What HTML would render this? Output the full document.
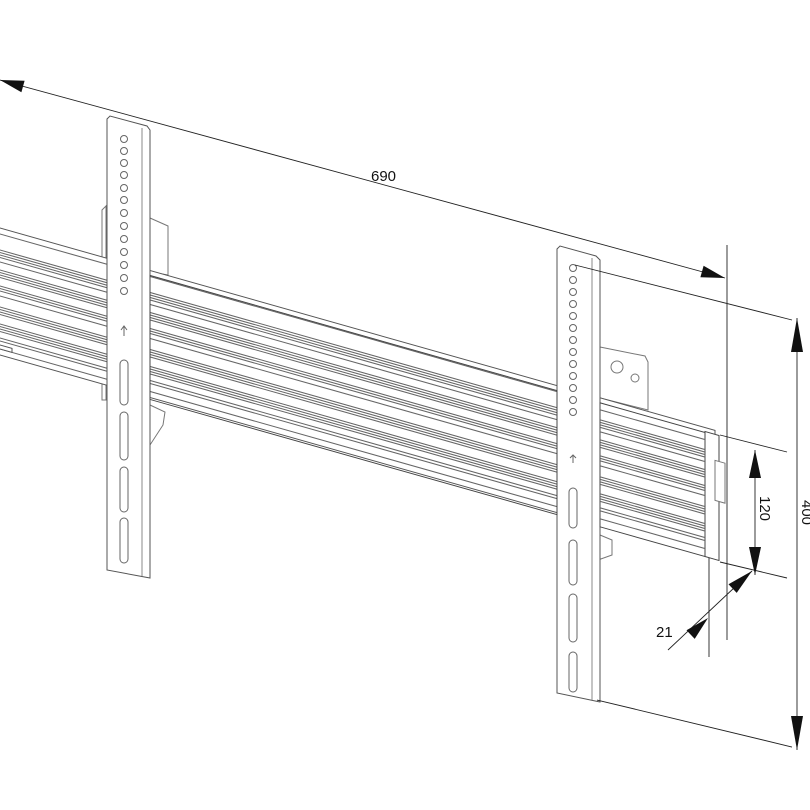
<!DOCTYPE html>
<html><head><meta charset="utf-8"><style>
html,body{margin:0;padding:0;background:#fff;}
svg{display:block}
text{font-family:"Liberation Sans",Arial,sans-serif;fill:#111}
</style></head><body>
<svg width="810" height="810" viewBox="0 0 810 810" xmlns="http://www.w3.org/2000/svg">
<rect width="810" height="810" fill="#fff"/>

<!-- back tabs -->
<g fill="#fff" stroke="#777" stroke-width="1">
  <path d="M102 210 L106 206 L106 400 L102 400 Z"/>
  <path d="M150 218 L168 226 L168 275 L150 272 Z"/>
  <path d="M150 405 L165 412 L163 425 L150 445 Z"/>
  <path d="M600 347 L645 356 L648 362 L648 410 L600 398 Z"/>
  <circle cx="617" cy="367" r="6"/>
  <circle cx="635" cy="378" r="4"/>
  <path d="M600 535 L612 540 L612 555 L598 560 Z"/>
</g>

<!-- rail -->
<g transform="matrix(1 0.283 0 1 0 0)">
  <rect x="-5" y="228" width="720" height="127" fill="#fff" stroke="#555" stroke-width="1"/>
  <g stroke="#666" stroke-width="1.1">
    <line x1="0" y1="234" x2="715" y2="234"/>
    <line x1="0" y1="250" x2="715" y2="250"/><line x1="0" y1="252.5" x2="715" y2="252.5"/><line x1="0" y1="255" x2="715" y2="255"/><line x1="0" y1="257.5" x2="715" y2="257.5"/>
    <line x1="0" y1="262" x2="715" y2="262"/>
    <line x1="0" y1="270" x2="715" y2="270"/><line x1="0" y1="272.5" x2="715" y2="272.5"/><line x1="0" y1="275" x2="715" y2="275"/><line x1="0" y1="277.5" x2="715" y2="277.5"/>
    <line x1="0" y1="286" x2="715" y2="286"/><line x1="0" y1="288.5" x2="715" y2="288.5"/><line x1="0" y1="291" x2="715" y2="291"/>
    <line x1="0" y1="296" x2="715" y2="296"/>
    <line x1="0" y1="307" x2="715" y2="307"/><line x1="0" y1="309.5" x2="715" y2="309.5"/><line x1="0" y1="312" x2="715" y2="312"/><line x1="0" y1="314.5" x2="715" y2="314.5"/>
    <line x1="0" y1="324" x2="715" y2="324"/><line x1="0" y1="326.5" x2="715" y2="326.5"/><line x1="0" y1="329" x2="715" y2="329"/><line x1="0" y1="331.5" x2="715" y2="331.5"/>
    <line x1="0" y1="338" x2="715" y2="338"/><line x1="0" y1="341" x2="715" y2="341"/>
    <line x1="0" y1="349" x2="715" y2="349"/>
  </g>
  <rect x="705" y="232" width="14" height="125" fill="#fff" stroke="#444" stroke-width="1"/>
  <rect x="715" y="258" width="10" height="40" fill="#fff" stroke="#777" stroke-width="1"/>
  <rect x="-2" y="345" width="14" height="4" fill="#fff" stroke="#555"/>
</g>

<!-- left bracket -->
<g fill="#fff" stroke="#555" stroke-width="1">
  <path d="M107 119 L110 116 L147 126 L150 130 L150 578 L107 570 Z"/>
  <line x1="142" y1="128" x2="142" y2="576" stroke="#888"/>
  <g fill="none" stroke="#666">
    <circle cx="124" cy="139" r="3.5"/><circle cx="124" cy="151" r="3.5"/><circle cx="124" cy="163" r="3.5"/>
    <circle cx="124" cy="175" r="3.5"/><circle cx="124" cy="188" r="3.5"/><circle cx="124" cy="200" r="3.5"/>
    <circle cx="124" cy="213" r="3.5"/><circle cx="124" cy="226" r="3.5"/><circle cx="124" cy="239" r="3.5"/>
    <circle cx="124" cy="252" r="3.5"/><circle cx="124" cy="265" r="3.5"/><circle cx="124" cy="278" r="3.5"/>
    <circle cx="124" cy="291" r="3.5"/>
    <path d="M124 336 L124 326 M121 330 L124 326 L127 330"/>
    <rect x="120" y="360" width="8" height="45" rx="4"/>
    <rect x="120" y="412" width="8" height="48" rx="4"/>
    <rect x="120" y="467" width="8" height="45" rx="4"/>
    <rect x="120" y="518" width="8" height="45" rx="4"/>
  </g>
</g>

<!-- right bracket -->
<g fill="#fff" stroke="#555" stroke-width="1">
  <path d="M557 249 L560 246 L596 256 L600 260 L600 702 L557 693 Z"/>
  <line x1="592" y1="258" x2="592" y2="700" stroke="#888"/>
  <g fill="none" stroke="#666">
    <circle cx="573" cy="268" r="3.5"/><circle cx="573" cy="280" r="3.5"/><circle cx="573" cy="292" r="3.5"/>
    <circle cx="573" cy="304" r="3.5"/><circle cx="573" cy="316" r="3.5"/><circle cx="573" cy="328" r="3.5"/>
    <circle cx="573" cy="340" r="3.5"/><circle cx="573" cy="352" r="3.5"/><circle cx="573" cy="364" r="3.5"/>
    <circle cx="573" cy="376" r="3.5"/><circle cx="573" cy="388" r="3.5"/><circle cx="573" cy="400" r="3.5"/>
    <circle cx="573" cy="412" r="3.5"/>
    <path d="M573 463 L573 455 M570 458 L573 455 L576 458"/>
    <rect x="569" y="488" width="8" height="40" rx="4"/>
    <rect x="569" y="540" width="8" height="45" rx="4"/>
    <rect x="569" y="594" width="8" height="48" rx="4"/>
    <rect x="569" y="652" width="8" height="40" rx="4"/>
  </g>
</g>
<!-- rail front piece right of right bracket -->
<g transform="matrix(1 0.283 0 1 0 0)">
  <rect x="600" y="233" width="105" height="124" fill="#fff" stroke="#444" stroke-width="1"/>
  <g stroke="#666" stroke-width="1.1">
    <line x1="600" y1="240" x2="705" y2="240"/>
    <line x1="600" y1="250" x2="705" y2="250"/><line x1="600" y1="252.5" x2="705" y2="252.5"/><line x1="600" y1="255" x2="705" y2="255"/><line x1="600" y1="257.5" x2="705" y2="257.5"/>
    <line x1="600" y1="262" x2="705" y2="262"/>
    <line x1="600" y1="270" x2="705" y2="270"/><line x1="600" y1="272.5" x2="705" y2="272.5"/><line x1="600" y1="275" x2="705" y2="275"/><line x1="600" y1="277.5" x2="705" y2="277.5"/>
    <line x1="600" y1="286" x2="705" y2="286"/><line x1="600" y1="288.5" x2="705" y2="288.5"/><line x1="600" y1="291" x2="705" y2="291"/>
    <line x1="600" y1="296" x2="705" y2="296"/>
    <line x1="600" y1="307" x2="705" y2="307"/><line x1="600" y1="309.5" x2="705" y2="309.5"/><line x1="600" y1="312" x2="705" y2="312"/><line x1="600" y1="314.5" x2="705" y2="314.5"/>
    <line x1="600" y1="324" x2="705" y2="324"/><line x1="600" y1="326.5" x2="705" y2="326.5"/><line x1="600" y1="329" x2="705" y2="329"/><line x1="600" y1="331.5" x2="705" y2="331.5"/>
    <line x1="600" y1="338" x2="705" y2="338"/><line x1="600" y1="341" x2="705" y2="341"/>
    <line x1="600" y1="349" x2="705" y2="349"/>
  </g>
</g>
<g transform="matrix(1 0.283 0 1 0 0)">
  <rect x="150" y="233" width="407" height="124" fill="none" stroke="#444" stroke-width="1"/>
</g>

<!-- dimension lines -->
<g stroke="#222" stroke-width="0.9" fill="none">
  <line x1="0" y1="80" x2="725" y2="278"/>
  <line x1="727" y1="245" x2="727" y2="640"/>
  <line x1="575" y1="265" x2="792" y2="320"/>
  <line x1="597" y1="700" x2="792" y2="747"/>
  <line x1="797" y1="318" x2="797" y2="750"/>
  <line x1="720" y1="435" x2="787" y2="452"/>
  <line x1="720" y1="562" x2="787" y2="578"/>
  <line x1="755" y1="450" x2="755" y2="575"/>
  <line x1="709" y1="558" x2="709" y2="657"/>
  <line x1="668" y1="650" x2="752" y2="571"/>
</g>
<g fill="#111">
  <polygon points="0,80 24.6,80.7 21.4,92.3"/>
  <polygon points="725,278 703.6,265.7 700.4,277.3"/>
  <polygon points="797,318 791,352 803,352"/>
  <polygon points="797,750 791,716 803,716"/>
  <polygon points="755,450 749,478 761,478"/>
  <polygon points="755,575 749,547 761,547"/>
  <polygon points="752,571 736.7,592.9 728.5,584.2"/>
  <polygon points="708,618 694.7,638.9 686.5,630.2"/>
</g>
<text x="371" y="181" font-size="15">690</text>
<text x="656" y="637" font-size="15">21</text>
<text transform="translate(760,496) rotate(90)" font-size="15">120</text>
<text transform="translate(802,500) rotate(90)" font-size="15">400</text>
</svg>
</body></html>
